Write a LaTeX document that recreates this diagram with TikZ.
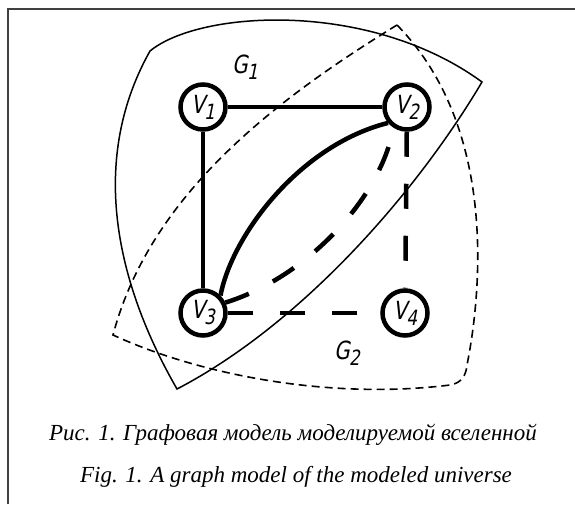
\documentclass[tikz,border=0pt]{standalone}
\usepackage{fontspec}
\setmainfont{Liberation Serif}
\newfontfamily\gost[FakeSlant=0.2,FakeStretch=0.8]{DejaVu Sans}
\newcommand\glab[2]{#1\kern-0.5pt\raisebox{-6pt}{\fontsize{21}{21}\selectfont #2}}
\begin{document}
\begin{tikzpicture}[x=1pt,y=-1pt,
  vert/.style={circle,draw,line width=4.5pt,minimum size=45pt,inner sep=0pt,font=\gost\fontsize{25}{25}\selectfont},
  edge/.style={line width=4.5pt},
  dedge/.style={line width=4.5pt,dash pattern=on 25pt off 27pt},
  region/.style={line width=1.5pt,line join=miter},
  dregion/.style={line width=1.6pt,dash pattern=on 8pt off 5pt},
  glabel/.style={font=\gost\fontsize{25}{25}\selectfont,inner sep=0pt},
  framestyle/.style={line width=1.5pt,draw=black!75},
  captext/.style={font=\itshape\fontsize{23}{23}\selectfont,inner sep=0pt,anchor=base}]
\useasboundingbox (0,0) rectangle (575,504);
% frame
\coordinate (f1) at (8,504);
\coordinate (f2) at (8,9);
\coordinate (f3) at (575,9);
\draw[framestyle] (f1) -- (f2) -- (f3);
% region G1
\coordinate (A) at (150,51);
\coordinate (B) at (482,82);
\coordinate (C) at (177,389);
\draw[region] (A) .. controls (200,10) and (370,0) .. (B)
  .. controls (415,195) and (300,325) .. (C)
  .. controls (120,290) and (86,165) .. (A) -- cycle;
% region G2
\coordinate (P) at (397,25);
\coordinate (Q) at (113,335);
\coordinate (R1) at (450,385);
\coordinate (R2) at (467,365);
\draw[dregion] (P) .. controls (275,100) and (150,195) .. (Q)
  .. controls (200,375) and (330,400) .. (R1)
  .. controls (462,383) and (466,375) .. (R2)
  .. controls (480,300) and (500,130) .. (P);
% vertices
\node[vert] (v1) at (203,107) {\glab{V}{1}};
\node[vert] (v2) at (407,107) {\glab{V}{2}};
\node[vert] (v3) at (203,313) {\glab{V}{3}};
\node[vert] (v4) at (405,313) {\glab{V}{4}};
% edges
\draw[edge] (v1) -- (v2);
\draw[edge] (v1) -- (v3);
\draw[edge] (v3.45) .. controls (232,235) and (300,145) .. (v2.220);
\draw[dedge] (v3.25) .. controls (305,278) and (380,200) .. (v2.237);
\draw[dedge] (v2) -- (v4);
\draw[dedge] (v3) -- (v4);
% labels
\node[glabel] (g1) at (245,67) {\glab{G}{1}};
\node[glabel] (g2) at (347,353) {\glab{G}{2}};
% caption
\node[captext] (c1) at (293,440) {Рис. 1. Графовая модель моделируемой вселенной};
\node[captext] (c2) at (296,482) {Fig. 1. A graph model of the modeled universe};
\end{tikzpicture}
\end{document}
